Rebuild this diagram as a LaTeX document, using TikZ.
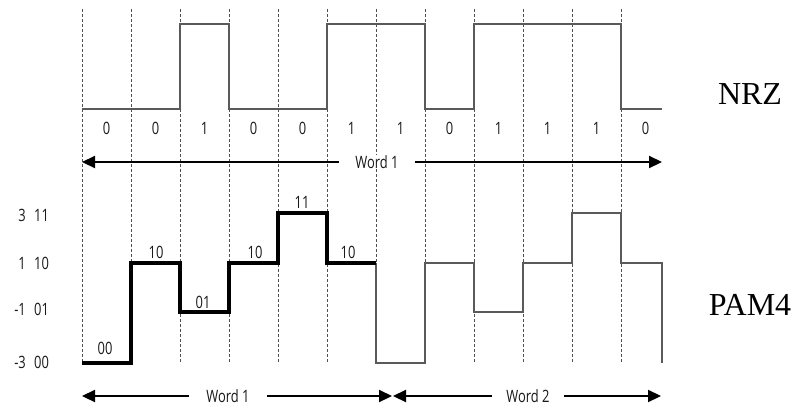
\documentclass[tikz,border=0pt]{standalone}
\usepackage{fontspec}
\setmainfont{Liberation Serif}
\newfontfamily\cond[FakeStretch=0.76]{Open Sans}
\usetikzlibrary{arrows.meta}
\definecolor{sig}{HTML}{5A5A5A}
\definecolor{grid}{HTML}{505050}
\begin{document}
\begin{tikzpicture}[x=1pt,y=-1pt,
  gridline/.style={draw=grid,line width=0.7pt,dash pattern=on 3pt off 2pt},
  thinsig/.style={draw=sig,line width=1.2pt,line join=miter},
  thicksig/.style={draw=black,line width=3.2pt,line join=miter},
  small/.style={font=\cond\fontsize{17}{19}\selectfont,inner sep=0pt,text=black!90},
  wordlbl/.style={small,fill=white,inner xsep=16pt,inner ysep=0pt},
  big/.style={font=\fontsize{32}{36}\selectfont,inner sep=0pt},
  arr/.style={line width=2.2pt,-{Triangle[length=13pt,width=12pt]}}]
\useasboundingbox (0,0) rectangle (796,405);

% dashed grid lines
\foreach \i in {0,...,11}{
  \draw[gridline] ({82+49*\i},9) -- ({82+49*\i},363);
}

% NRZ waveform
\draw[thinsig] (82,109) -- (180,109) -- (180,24) -- (229,24) -- (229,109)
  -- (327,109) -- (327,24) -- (425,24) -- (425,109) -- (474,109) -- (474,24)
  -- (621,24) -- (621,109) -- (662,109);

% bit labels
\foreach \b [count=\i from 0] in {0,0,1,0,0,1,1,0,1,1,1,0}{
  \node[small] (bit\i) at ({106.5+49*\i},128) {\b};
}

% NRZ word arrow
\node[wordlbl] (nw1) at (377,162) {Word 1};
\coordinate (nl) at (82,162);
\coordinate (nr) at (662,162);
\draw[arr] (nw1.west) -- (nl);
\draw[arr] (nw1.east) -- (nr);

\node[big] (nrz) at (750,94) {NRZ};
\node[big] (pam) at (750,305) {PAM4};

% PAM4 level labels
\node[small,anchor=east] (lv3) at (26,215) {3};
\node[small,anchor=west] (lc3) at (34,215) {11};
\node[small,anchor=east] (lv1) at (26,263) {1};
\node[small,anchor=west] (lc1) at (34,263) {10};
\node[small,anchor=east] (lvm1) at (26,309) {-1};
\node[small,anchor=west] (lcm1) at (34,309) {01};
\node[small,anchor=east] (lvm3) at (26,362) {-3};
\node[small,anchor=west] (lcm3) at (34,362) {00};

% PAM4 word 2 (thin)
\draw[thinsig] (376,263) -- (376,363) -- (425,363) -- (425,263) -- (474,263)
  -- (474,312) -- (523,312) -- (523,263) -- (572,263) -- (572,213) -- (621,213)
  -- (621,263) -- (662,263) -- (662,363);

% PAM4 word 1 (thick)
\draw[thicksig] (82,363) -- (131,363) -- (131,263) -- (180,263) -- (180,312)
  -- (229,312) -- (229,263) -- (278,263) -- (278,213) -- (327,213) -- (327,263)
  -- (376,263);

% symbol labels
\node[small] (s1) at (105,348) {00};
\node[small] (s2) at (156,252) {10};
\node[small] (s3) at (203,302) {01};
\node[small] (s4) at (255,252) {10};
\node[small] (s5) at (302,202) {11};
\node[small] (s6) at (348,252) {10};

% PAM4 word arrows
\node[wordlbl,inner xsep=17pt] (pw1) at (228,396) {Word 1};
\coordinate (p1l) at (82,396);
\coordinate (p1r) at (392,396);
\draw[arr] (pw1.west) -- (p1l);
\draw[arr] (pw1.east) -- (p1r);

\node[wordlbl,inner xsep=14pt] (pw2) at (528,396) {Word 2};
\coordinate (p2l) at (393,396);
\coordinate (p2r) at (661,396);
\draw[arr] (pw2.west) -- (p2l);
\draw[arr] (pw2.east) -- (p2r);
\end{tikzpicture}
\end{document}
